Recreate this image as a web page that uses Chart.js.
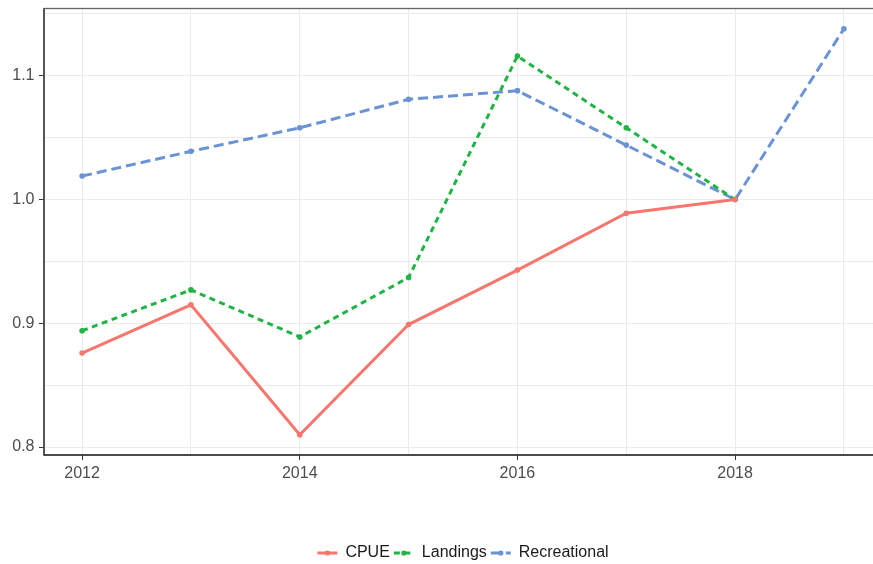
<!DOCTYPE html>
<html>
<head>
<meta charset="utf-8">
<script src="https://cdn.jsdelivr.net/npm/chart.js@4/dist/chart.umd.min.js"></script>
<style>
  html, body { margin: 0; padding: 0; background: #fff; overflow: hidden; }
  canvas { display: block; }
</style>
</head>
<body>
<canvas id="chart" width="900" height="571"></canvas>
<script>
// data
const years = [2012, 2013, 2014, 2015, 2016, 2017, 2018, 2019];
const cpue = [0.876, 0.915, 0.810, 0.899, 0.943, 0.989, 1.000];
const landings = [0.894, 0.927, 0.889, 0.937, 1.116, 1.058, 1.000];
const recreational = [1.019, 1.039, 1.058, 1.081, 1.088, 1.044, 1.000, 1.138];
const yMajor = [0.8, 0.9, 1.0, 1.1];
const xMajor = [2012, 2014, 2016, 2018];

const yGrid = [0.8, 0.85, 0.9, 0.95, 1.0, 1.05, 1.1, 1.15];
const font = "'Liberation Sans', Arial, sans-serif";

function toPoints(vals) {
    return vals.map((v, i) => ({ x: years[i], y: v }));
}

function isMajor(list, v) {
    return list.some(m => Math.abs(m - v) < 1e-6);
}

// ggplot style panel border + axis lines
const panelBorder = {
    id: 'panelBorder',
    afterDraw(chart) {
        const a = chart.chartArea, ctx = chart.ctx;
        ctx.save();
        ctx.strokeStyle = '#666';
        ctx.lineWidth = 1.3;
        ctx.strokeRect(a.left, a.top, a.right - a.left, a.bottom - a.top);
        ctx.strokeStyle = '#333';
        ctx.beginPath();
        ctx.moveTo(a.left, a.top);
        ctx.lineTo(a.left, a.bottom);
        ctx.lineTo(a.right, a.bottom);
        ctx.stroke();
        ctx.restore();
    }
};

// centre the legend under the panel, and put a dot on each key like ggplot does
const legendKeys = {
    id: 'legendKeys',
    afterLayout(chart) {
        const lg = chart.legend;
        const dx = (chart.chartArea.left + chart.chartArea.right) / 2 - (lg.left + lg.right) / 2;
        lg.left += dx;
        lg.right += dx;
    },
    afterDraw(chart) {
        const lg = chart.legend, ctx = chart.ctx;
        const opts = lg.options.labels;
        ctx.save();
        lg.legendItems.forEach((item, i) => {
            const hb = lg.legendHitBoxes[i];
            ctx.fillStyle = item.strokeStyle;
            ctx.beginPath();
            ctx.arc(hb.left + opts.pointStyleWidth / 2, hb.top + opts.font.size / 2, 2.6, 0, Math.PI * 2);
            ctx.fill();
        });
        ctx.restore();
    }
};

const lineStyle = {
    borderWidth: 3,
    pointRadius: 2.8,
    pointHoverRadius: 2.8,
    pointBorderWidth: 0,
    tension: 0,
    fill: false
};

new Chart(document.getElementById('chart'), {
    type: 'line',
    data: {
        datasets: [
            Object.assign({
                label: 'CPUE',
                data: toPoints(cpue),
                borderColor: '#F8766D',
                backgroundColor: '#F8766D'
            }, lineStyle),
            Object.assign({
                label: 'Landings',
                data: toPoints(landings),
                borderColor: '#1FB443',
                backgroundColor: '#1FB443',
                borderDash: [6, 4.5]
            }, lineStyle),
            Object.assign({
                label: 'Recreational',
                data: toPoints(recreational),
                borderColor: '#6A93D6',
                backgroundColor: '#6A93D6',
                borderDash: [10, 5]
            }, lineStyle)
        ]
    },
    options: {
        responsive: false,
        animation: false,
        layout: { padding: { left: 0, right: 18, top: 8.5, bottom: 0 } },
        scales: {
            x: {
                type: 'linear',
                min: 2011.65,
                max: 2019.35,
                afterBuildTicks: (scale) => { scale.ticks = years.map(v => ({ value: v })); },
                afterFit: (scale) => { scale.height = 86; scale.paddingLeft = 0; scale.paddingRight = 0; },
                ticks: {
                    autoSkip: false,
                    maxRotation: 0,
                    padding: 3.5,
                    color: '#4D4D4D',
                    font: { family: font, size: 16 },
                    callback: (v) => isMajor(xMajor, v) ? String(v) : ''
                },
                grid: {
                    color: '#EBEBEB',
                    lineWidth: 1,
                    tickLength: 5,
                    tickColor: (c) => isMajor(xMajor, c.tick.value) ? '#333' : 'rgba(0,0,0,0)'
                },
                border: { display: false }
            },
            y: {
                type: 'linear',
                min: 0.7936,
                max: 1.1544,
                afterBuildTicks: (scale) => { scale.ticks = yGrid.map(v => ({ value: v })); },
                afterFit: (scale) => { scale.width = 44; scale.paddingTop = 0; scale.paddingBottom = 0; },
                ticks: {
                    autoSkip: false,
                    padding: 4.5,
                    color: '#4D4D4D',
                    font: { family: font, size: 16 },
                    callback: (v) => isMajor(yMajor, v) ? v.toFixed(1) : ''
                },
                grid: {
                    color: '#EBEBEB',
                    lineWidth: 1,
                    tickLength: 5,
                    tickColor: (c) => isMajor(yMajor, c.tick.value) ? '#333' : 'rgba(0,0,0,0)'
                },
                border: { display: false }
            }
        },
        plugins: {
            legend: {
                display: true,
                position: 'bottom',
                labels: {
                    usePointStyle: true,
                    pointStyle: 'line',
                    pointStyleWidth: 20,
                    boxHeight: 3,
                    padding: 4,
                    color: '#1A1A1A',
                    font: { family: font, size: 16 },
                    generateLabels: (chart) => Chart.defaults.plugins.legend.labels.generateLabels(chart).map(item => {
                        const ds = chart.data.datasets[item.datasetIndex];
                        return Object.assign(item, {
                            pointStyle: 'line',
                            lineWidth: 3,
                            strokeStyle: ds.borderColor,
                            fillStyle: ds.borderColor,
                            lineDash: ds.borderDash || []
                        });
                    })
                }
            },
            tooltip: { enabled: false }
        }
    },
    plugins: [panelBorder, legendKeys]
});
</script>
</body>
</html>
